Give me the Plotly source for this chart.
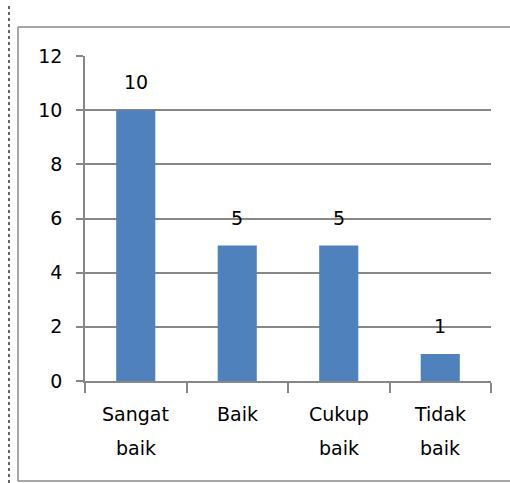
import plotly.graph_objects as go

categories = ["Sangat baik", "Baik", "Cukup baik", "Tidak baik"]
values = [10, 5, 5, 1]
y_ticks = [0, 2, 4, 6, 8, 10, 12]

BAR = "#4F81BD"
GRID = "#878787"
FONT = dict(family="DejaVu Sans", size=19, color="#000000")

fig = go.Figure()
fig.add_trace(go.Bar(
    x=categories, y=values, marker=dict(color=BAR, line=dict(width=0)),
    hoverinfo="skip",
))

annotations = []
# value labels above bars
for c, v in zip(categories, values):
    annotations.append(dict(x=c, y=v, xref="x", yref="y", text=str(v),
                            showarrow=False, yanchor="middle", yshift=28, font=FONT))
# category labels (two lines with wide spacing)
for c in categories:
    parts = c.split(" ")
    for i, p in enumerate(parts):
        annotations.append(dict(x=c, y=0, xref="x", yref="paper", text=p,
                                showarrow=False, yanchor="middle",
                                yshift=-33 - 34 * i, font=FONT))

W, H = 510, 483
L, R, T, B = 85, 19, 56, 102
pw = W - L - R
ph = H - T - B

def px(xp):
    return (xp - L) / pw

def py(yp):
    return (H - B - yp) / ph

border = dict(color="#8a8a8a", width=1.5)
shapes = [
    dict(type="line", xref="paper", yref="paper",
         x0=px(18), x1=px(18), y0=py(481), y1=py(27), line=border),
    dict(type="line", xref="paper", yref="paper",
         x0=px(18), x1=px(W + 40), y0=py(27), y1=py(27), line=border),
    dict(type="line", xref="paper", yref="paper",
         x0=px(18), x1=px(W + 40), y0=py(481), y1=py(481), line=border),
    dict(type="line", xref="paper", yref="paper",
         x0=px(9), x1=px(9), y0=py(483), y1=py(3),
         line=dict(color="#333333", width=1.5, dash="dot")),
]

fig.update_layout(
    width=W, height=H,
    margin=dict(l=L, r=R, t=T, b=B, pad=0),
    paper_bgcolor="white", plot_bgcolor="white",
    showlegend=False,
    bargap=0.615,
    font=FONT,
    annotations=annotations,
    shapes=shapes,
    xaxis=dict(
        type="category", range=[-0.5, 3.5], showticklabels=False,
        ticks="outside", tickson="boundaries", ticklen=10, tickcolor=GRID, tickwidth=1.5,
        showline=True, linecolor=GRID, linewidth=1.5, showgrid=False, zeroline=False,
        fixedrange=True,
    ),
    yaxis=dict(
        range=[0, 12], tickvals=y_ticks, ticktext=[str(t) for t in y_ticks],
        ticks="outside", ticklen=7, tickcolor=GRID, tickwidth=1.5,
        showline=True, linecolor=GRID, linewidth=1.5,
        showgrid=True, gridcolor=GRID, gridwidth=1.5, zeroline=False,
        ticklabelstandoff=10, tickfont=FONT, fixedrange=True,
    ),
)

fig.write_html("out.html", config={"displayModeBar": False})
